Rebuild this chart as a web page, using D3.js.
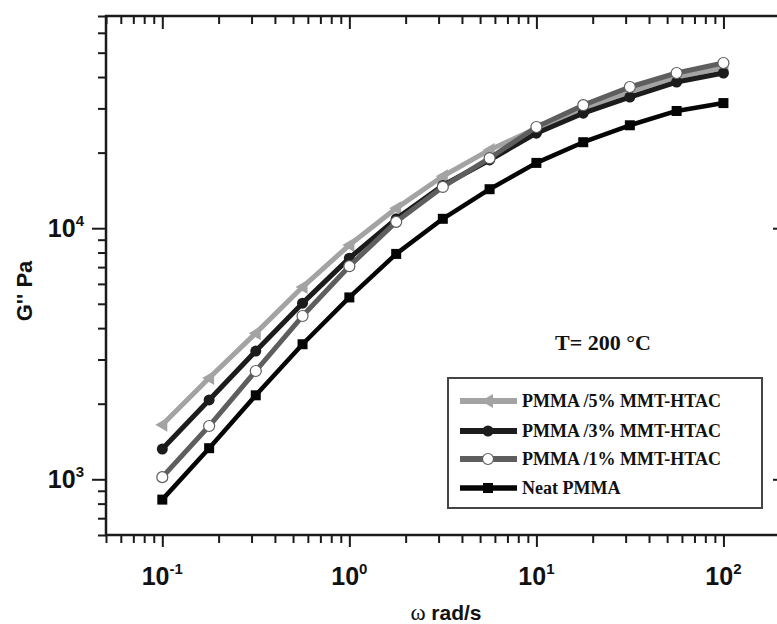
<!DOCTYPE html>
<html>
<head>
<meta charset="utf-8">
<script src="https://cdn.jsdelivr.net/npm/d3@7"></script>
<style>
  body { margin: 0; background: #fff; }
  svg { display: block; }
</style>
</head>
<body>
<div id="chart"></div>
<script>
// data (G'' in Pa vs omega in rad/s)
const omega = [0.1, 0.178, 0.316, 0.562, 1, 1.78, 3.16, 5.62, 10, 17.8, 31.6, 56.2, 100];
const pmma5 = [1650, 2530, 3820, 5830, 8570, 12000, 16100, 20500, 25000, 30000, 35000, 40000, 43500];
const pmma3 = [1320, 2070, 3240, 5030, 7600, 10900, 14800, 18700, 23900, 28700, 33300, 38200, 41500];
const pmma1 = [1020, 1630, 2700, 4470, 7060, 10600, 14600, 19000, 25300, 30900, 36500, 41500, 45500];
const neat  = [830, 1330, 2160, 3450, 5300, 7900, 10900, 14300, 18200, 22000, 25700, 29300, 31500];
const seriesNames = ["PMMA /5% MMT-HTAC", "PMMA /3% MMT-HTAC", "PMMA /1% MMT-HTAC", "Neat PMMA"];
const xMajor = [0.1, 1, 10, 100];
const xExp = ["-1", "0", "1", "2"];
const yMajor = [1000, 10000];
const yExp = ["3", "4"];

const W = 777, H = 624;
const mLeft = 106, mRight = 786, mTop = 16, mBottom = 535;

const svg = d3.select("#chart").append("svg")
  .attr("width", W).attr("height", H);

const x = d3.scaleLog().domain([0.05, 216]).range([mLeft, mRight]);
const y = d3.scaleLog().domain([600, 70000]).range([mBottom, mTop]);

// minor tick values
const xMinor = [];
[0.01, 0.1, 1, 10, 100].forEach(d => { for (let k = 2; k <= 9; k++) { const v = d * k; if (v >= 0.05 && v <= 216) xMinor.push(v); } });
const yMinor = [];
[100, 1000, 10000].forEach(d => { for (let k = 2; k <= 9; k++) { const v = d * k; if (v >= 600 && v <= 70000) yMinor.push(v); } });

function styleAxis(g) {
  g.select(".domain").remove();
  g.selectAll("line").attr("stroke", "#1a1a1a").attr("stroke-width", 2);
}

// bottom (outward) and top (inward)
svg.append("g").attr("transform", `translate(0,${mBottom})`)
  .call(d3.axisBottom(x).tickValues(xMinor).tickSize(8).tickFormat("")).call(styleAxis);
svg.append("g").attr("transform", `translate(0,${mBottom})`)
  .call(d3.axisBottom(x).tickValues(xMajor).tickSize(12).tickFormat("")).call(styleAxis);
svg.append("g").attr("transform", `translate(0,${mTop})`)
  .call(d3.axisTop(x).tickValues(xMinor).tickSize(-8).tickFormat("")).call(styleAxis);
svg.append("g").attr("transform", `translate(0,${mTop})`)
  .call(d3.axisTop(x).tickValues(xMajor).tickSize(-13).tickFormat("")).call(styleAxis);

// left (outward) and right (inward)
svg.append("g").attr("transform", `translate(${mLeft},0)`)
  .call(d3.axisLeft(y).tickValues(yMinor).tickSize(8).tickFormat("")).call(styleAxis);
svg.append("g").attr("transform", `translate(${mLeft},0)`)
  .call(d3.axisLeft(y).tickValues(yMajor).tickSize(14).tickFormat("")).call(styleAxis);
svg.append("g").attr("transform", `translate(${mRight},0)`)
  .call(d3.axisRight(y).tickValues(yMinor).tickSize(-8).tickFormat("")).call(styleAxis);
svg.append("g").attr("transform", `translate(${mRight},0)`)
  .call(d3.axisRight(y).tickValues(yMajor).tickSize(-13).tickFormat("")).call(styleAxis);

// frame
svg.append("rect")
  .attr("x", mLeft).attr("y", mTop)
  .attr("width", mRight - mLeft).attr("height", mBottom - mTop)
  .attr("fill", "none").attr("stroke", "#1a1a1a").attr("stroke-width", 2.5);

// tick labels
const lab = svg.append("g")
  .attr("font-family", "Liberation Sans, Arial, sans-serif")
  .attr("font-weight", "bold").attr("fill", "#111");
xMajor.forEach((v, i) => {
  const t = lab.append("text").attr("x", x(v)).attr("y", 585)
    .attr("text-anchor", "middle").attr("font-size", 25);
  t.append("tspan").text("10");
  t.append("tspan").attr("font-size", 15).attr("dy", -11).text(xExp[i]);
});
yMajor.forEach((v, i) => {
  const t = lab.append("text").attr("x", 84).attr("y", y(v) + 9)
    .attr("text-anchor", "end").attr("font-size", 25);
  t.append("tspan").text("10");
  t.append("tspan").attr("font-size", 15).attr("dy", -11).text(yExp[i]);
});

// axis titles
const xt = svg.append("text").attr("x", 446).attr("y", 620)
  .attr("text-anchor", "middle").attr("font-family", "Liberation Sans, Arial, sans-serif")
  .attr("font-weight", "bold").attr("font-size", 21).attr("fill", "#111");
xt.append("tspan").attr("font-family", "Liberation Serif, serif").attr("font-weight", "normal").attr("font-size", 23).text("ω ");
xt.append("tspan").text("rad/s");

svg.append("text")
  .attr("transform", "translate(32,291) rotate(-90)")
  .attr("text-anchor", "middle").attr("font-family", "Liberation Sans, Arial, sans-serif")
  .attr("font-weight", "bold").attr("font-size", 22).attr("fill", "#111")
  .text("G'' Pa");

svg.append("text").attr("x", 555).attr("y", 350)
  .attr("font-family", "Liberation Serif, Times New Roman, serif")
  .attr("font-weight", "bold").attr("font-size", 22).attr("fill", "#111")
  .text("T= 200 °C");

// series
const series = [
  { name: seriesNames[0], vals: pmma5, color: "#a3a3a3", width: 5, marker: "tri", fill: "#a3a3a3" },
  { name: seriesNames[1], vals: pmma3, color: "#1c1c1c", width: 5, marker: "circle", fill: "#1c1c1c" },
  { name: seriesNames[2], vals: pmma1, color: "#5e5e5e", width: 5, marker: "circle", fill: "#ffffff" },
  { name: seriesNames[3], vals: neat, color: "#050505", width: 4.5, marker: "square", fill: "#050505" }
];

const line = d3.line().x(d => x(d[0])).y(d => y(d[1]));

function drawMarker(g, cx, cy, s) {
  if (s.marker === "circle") {
    g.append("circle").attr("cx", cx).attr("cy", cy).attr("r", 5.5)
      .attr("fill", s.fill).attr("stroke", s.color).attr("stroke-width", s.fill === "#ffffff" ? 1.2 : 0);
  } else if (s.marker === "square") {
    g.append("rect").attr("x", cx - 5).attr("y", cy - 5).attr("width", 10).attr("height", 10)
      .attr("fill", s.fill);
  } else {
    g.append("path")
      .attr("d", `M${cx - 7},${cy} L${cx + 5},${cy - 7} L${cx + 5},${cy + 7} Z`)
      .attr("fill", s.fill);
  }
}

const plot = svg.append("g");
series.forEach(s => {
  const pts = omega.map((o, i) => [o, s.vals[i]]);
  const g = plot.append("g");
  g.append("path").attr("d", line(pts)).attr("fill", "none")
    .attr("stroke", s.color).attr("stroke-width", s.width).attr("stroke-linejoin", "round");
  pts.forEach(p => drawMarker(g, x(p[0]), y(p[1]), s));
});

// legend
const lg = svg.append("g");
lg.append("rect").attr("x", 448).attr("y", 378).attr("width", 314).attr("height", 130)
  .attr("fill", "#fff").attr("stroke", "#444").attr("stroke-width", 2);
const rowY = [401, 431, 459, 488];
series.forEach((s, i) => {
  const ry = rowY[i];
  lg.append("line").attr("x1", 460).attr("x2", 517).attr("y1", ry).attr("y2", ry)
    .attr("stroke", s.color).attr("stroke-width", s.width + 1);
  drawMarker(lg, 488, ry, s);
  lg.append("text").attr("x", 522).attr("y", ry + 6)
    .attr("font-family", "Liberation Serif, Times New Roman, serif")
    .attr("font-weight", "bold").attr("font-size", 18).attr("fill", "#111")
    .text(s.name);
});
</script>
</body>
</html>
